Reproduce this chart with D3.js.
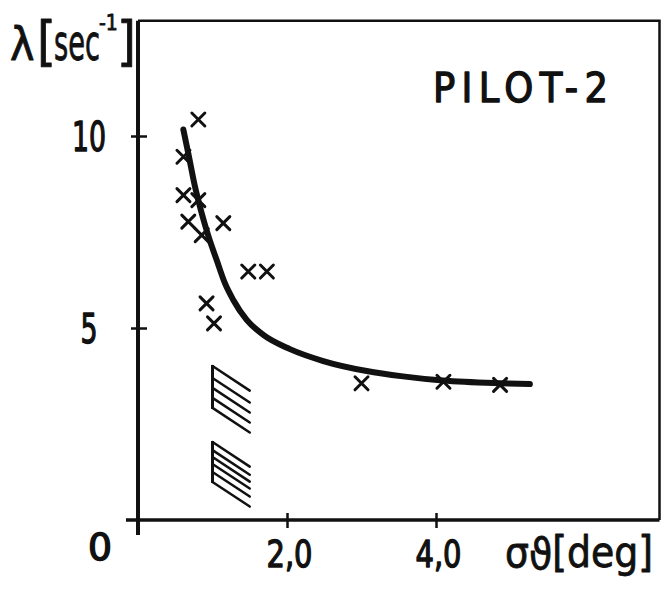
<!DOCTYPE html>
<html>
<head>
<meta charset="utf-8">
<script src="https://cdn.jsdelivr.net/npm/d3@7"></script>
<style>
  body { margin: 0; background: #fff; }
  text { font-family: "DejaVu Sans Condensed", "Liberation Sans", sans-serif; font-weight: normal; fill: #111; stroke: #111; stroke-width: 1.3px; stroke-linejoin: round; }
</style>
</head>
<body>
<div id="graph"></div>
<script>
const WIDTH = 664, HEIGHT = 589;

// measured points (crosses): sigma_theta [deg] vs lambda [1/sec]
const sigmaPts = [0.81, 0.61, 0.61, 0.81, 0.675, 0.855, 1.145, 1.48, 1.73, 0.92, 1.02, 3.00, 4.10, 4.86];
const lambdaPts = [10.43, 9.46, 8.46, 8.33, 7.77, 7.42, 7.73, 6.47, 6.47, 5.64, 5.12, 3.56, 3.60, 3.52];

// hand drawn trend curve
const curveX = [0.608, 0.675, 0.765, 0.855, 0.944, 1.056, 1.168, 1.279, 1.459, 1.682, 2.04, 2.487, 3.07, 3.557, 4.094, 4.859, 5.26];
const curveY = [10.17, 9.55, 8.68, 7.99, 7.40, 6.77, 6.16, 5.73, 5.21, 4.82, 4.45, 4.14, 3.88, 3.74, 3.63, 3.56, 3.54];

// hatched bands at sigma ~ 1.0
const hatchX = [1.0, 1.0];
const hatchLevels = [
    [4.01, 3.70, 3.44, 3.18, 2.92],
    [2.03, 1.82, 1.64, 1.46, 1.25, 0.99]
];

// ticks
const xTicks = [2, 4];
const xTickLabels = ["2,0", "4,0"];
const yTicks = [5, 10];
const yTickLabels = ["5", "10"];

const X_MAX = 7.0, Y_MAX = 13.0;

let svg = d3.select("#graph")
    .append("svg")
    .attr("width", WIDTH)
    .attr("height", HEIGHT);

let x = d3.scaleLinear().domain([0, 4]).range([138, 436]);
let y = d3.scaleLinear().domain([0, 10]).range([520, 136]);

// frame (top + right)
svg.append("path")
    .attr("d", `M${x(0)},${y(Y_MAX)} H${x(X_MAX)} V${y(0)}`)
    .attr("fill", "none")
    .attr("stroke", "#111")
    .attr("stroke-width", 2.5);

// x axis (ticks cross the line)
let xAxis = svg.append("g")
    .attr("transform", `translate(0, ${y(0)})`)
    .call(d3.axisBottom(x).tickValues(xTicks).tickFormat((d, i) => xTickLabels[i]).tickSize(0));
xAxis.select(".domain").remove();
xAxis.selectAll(".tick line")
    .attr("y1", -7).attr("y2", 8)
    .attr("stroke", "#111").attr("stroke-width", 2.5);
xAxis.selectAll(".tick text")
    .attr("y", 47).attr("dy", null)
    .attr("x", 2)
    .attr("textLength", 46).attr("lengthAdjust", "spacingAndGlyphs")
    .style("font-size", "38px")
    .style("font-family", null);

svg.append("line")
    .attr("x1", x(0) - 12).attr("x2", x(X_MAX))
    .attr("y1", y(0)).attr("y2", y(0))
    .attr("stroke", "#111").attr("stroke-width", 3.5);

// y axis
let yAxis = svg.append("g")
    .attr("transform", `translate(${x(0)}, 0)`)
    .call(d3.axisLeft(y).tickValues(yTicks).tickFormat((d, i) => yTickLabels[i]).tickSize(0));
yAxis.select(".domain").remove();
yAxis.selectAll(".tick line")
    .attr("x1", -7).attr("x2", 9)
    .attr("stroke", "#111").attr("stroke-width", 2.5);
yAxis.selectAll(".tick text")
    .attr("x", -49).attr("dy", "0.37em")
    .style("text-anchor", "middle")
    .attr("textLength", (d, i) => yTickLabels[i].length * 17)
    .attr("lengthAdjust", "spacingAndGlyphs")
    .style("font-size", "40px")
    .style("font-family", null);

svg.append("line")
    .attr("x1", x(0)).attr("x2", x(0))
    .attr("y1", y(Y_MAX)).attr("y2", y(0) + 15)
    .attr("stroke", "#111").attr("stroke-width", 4);

// origin label
svg.append("text")
    .attr("x", 100).attr("y", 560)
    .style("text-anchor", "middle")
    .attr("textLength", 24).attr("lengthAdjust", "spacingAndGlyphs")
    .style("font-size", "37px")
    .text("0");

// trend curve
let line = d3.line()
    .x(d => x(d[0]))
    .y(d => y(d[1]))
    .curve(d3.curveMonotoneX);

svg.append("path")
    .datum(curveX.map((v, i) => [v, curveY[i]]))
    .attr("d", line)
    .attr("fill", "none")
    .attr("stroke", "#111")
    .attr("stroke-width", 6)
    .attr("stroke-linecap", "round");

// crosses
const CR = 6.5;
svg.selectAll("path.cross")
    .data(sigmaPts.map((v, i) => [v, lambdaPts[i]]))
    .enter()
    .append("path")
    .attr("class", "cross")
    .attr("d", d => {
        let cx = x(d[0]), cy = y(d[1]);
        return `M${cx - CR},${cy - CR}L${cx + CR},${cy + CR}M${cx - CR},${cy + CR}L${cx + CR},${cy - CR}`;
    })
    .attr("stroke", "#111")
    .attr("stroke-width", 3)
    .attr("stroke-linecap", "round");

// hatched bands
const HATCH_DX = 0.5, HATCH_DY = -0.64;
hatchLevels.forEach(function(levels, k) {
    let g = svg.append("g");
    g.append("line")
        .attr("x1", x(hatchX[k])).attr("x2", x(hatchX[k]))
        .attr("y1", y(d3.max(levels)) - 1).attr("y2", y(d3.min(levels)) + 1)
        .attr("stroke", "#111").attr("stroke-width", 3);
    g.selectAll("line.h")
        .data(levels)
        .enter()
        .append("line")
        .attr("class", "h")
        .attr("x1", x(hatchX[k])).attr("y1", d => y(d))
        .attr("x2", x(hatchX[k] + HATCH_DX)).attr("y2", d => y(d + HATCH_DY))
        .attr("stroke", "#111").attr("stroke-width", 2.5)
        .attr("stroke-linecap", "round");
});

// y axis title  λ[sec^-1]  (one text, superscript sits over the c)
let yt = svg.append("text").attr("y", 60).style("stroke-width", "0.8px");
yt.append("tspan").attr("x", 10).style("font-size", "46px").text("λ");
yt.append("tspan").attr("x", 37).style("font-size", "54px").text("[");
yt.append("tspan").attr("x", 54).style("font-size", "50px")
    .attr("textLength", 46).attr("lengthAdjust", "spacingAndGlyphs").text("sec");
yt.append("tspan").attr("x", 99).attr("y", 30).style("font-size", "21px").text("-1");
yt.append("tspan").attr("x", 117).attr("y", 60).style("font-size", "54px").text("]");

// x axis title  σϑ[deg]
let xt = svg.append("text").attr("x", 505).attr("y", 567).style("font-size", "42px").style("stroke-width", "0.8px");
xt.append("tspan").text("σ");
xt.append("tspan").attr("dy", 2).text("ϑ");
xt.append("tspan").attr("dy", -2).text("[deg]");

// panel label
svg.append("text")
    .attr("x", 433).attr("y", 102)
    .style("font-size", "41px")
    .attr("textLength", 175)
    .attr("lengthAdjust", "spacing")
    .text("PILOT-2");
</script>
</body>
</html>
